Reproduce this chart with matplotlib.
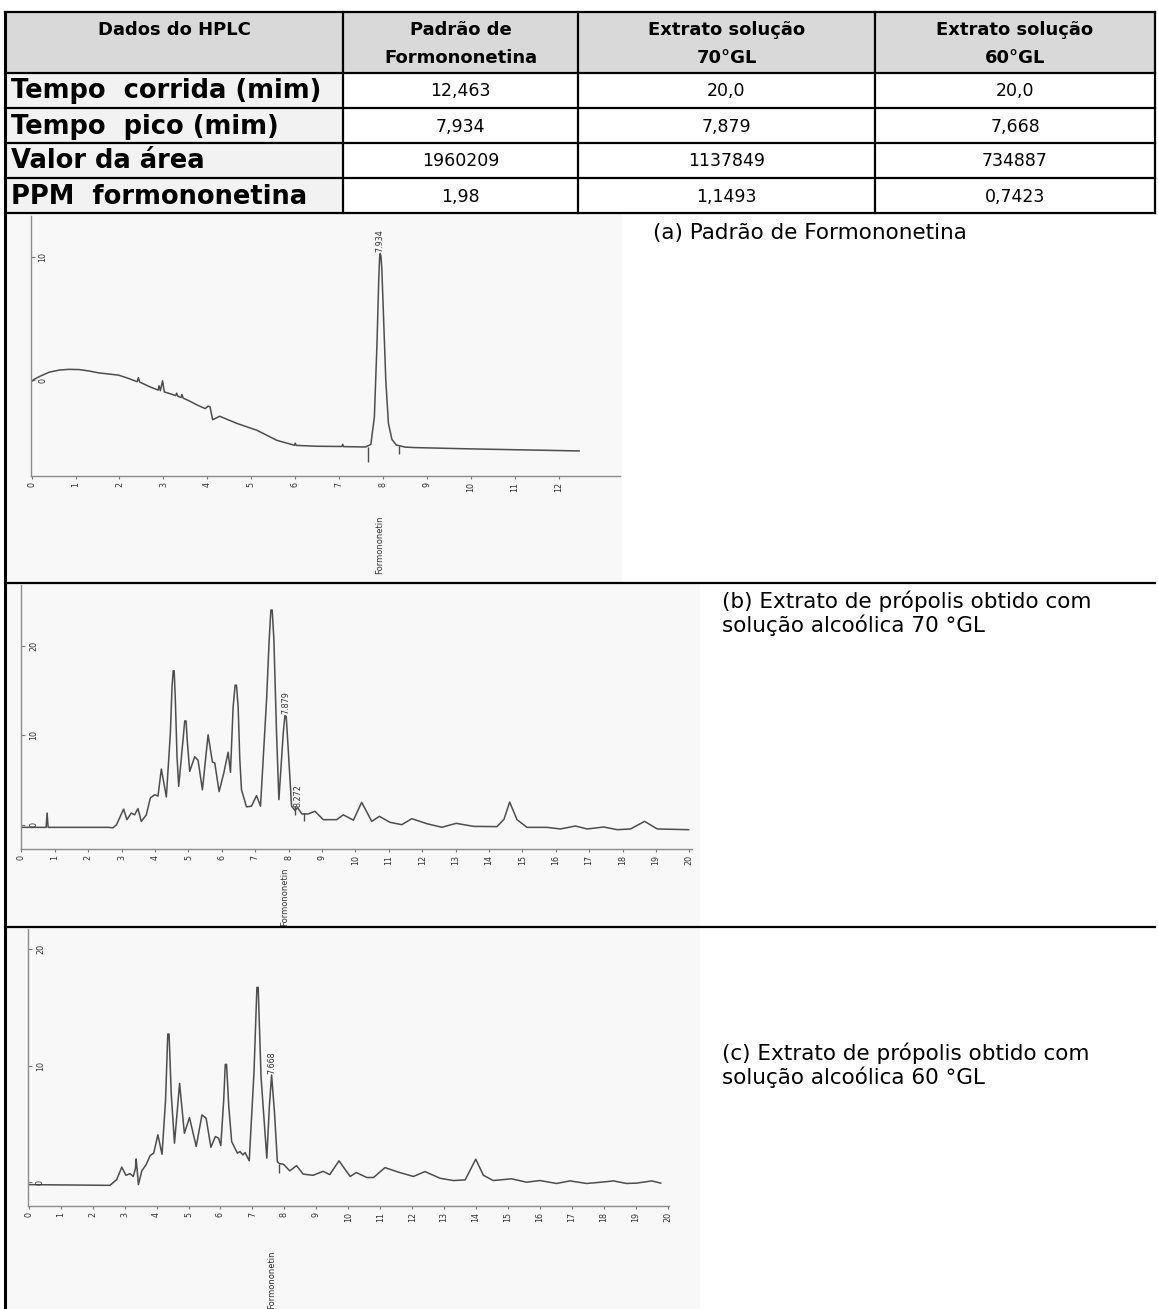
import matplotlib
matplotlib.use('Agg')
import matplotlib.pyplot as plt
from matplotlib.patches import Rectangle

plt.rcParams['font.family'] = ['DejaVu Sans']

# ---------------- data ----------------
col_headers = ["Dados do HPLC", "Padrão de\nFormononetina",
               "Extrato solução\n70°GL", "Extrato solução\n60°GL"]
row_labels = ["Tempo  corrida (mim)", "Tempo  pico (mim)",
              "Valor da área", "PPM  formononetina"]
padrao_vals = ["12,463", "7,934", "1960209", "1,98"]
extrato70_vals = ["20,0", "7,879", "1137849", "1,1493"]
extrato60_vals = ["20,0", "7,668", "734887", "0,7423"]

panel_titles = ["(a) Padrão de Formononetina",
                "(b) Extrato de própolis obtido com\nsolução alcoólica 70 °GL",
                "(c) Extrato de própolis obtido com\nsolução alcoólica 60 °GL"]

# chromatogram (a): standard
time_a = [0.00, 0.05, 0.18, 0.40, 0.63, 0.85, 1.08, 1.30, 1.53, 1.98, 2.20, 2.40,
          2.43, 2.46, 2.70, 2.88, 2.90, 2.93, 2.98, 3.02, 3.20, 3.28, 3.30, 3.33,
          3.40, 3.42, 3.45, 3.60, 3.78, 3.95, 4.02, 4.06, 4.12, 4.18, 4.28, 4.68,
          5.13, 5.58, 5.98, 6.00, 6.02, 6.48, 7.06, 7.08, 7.10, 7.60, 7.72, 7.80,
          7.86, 7.90, 7.92, 7.934, 7.95, 7.97, 8.01, 8.06, 8.12, 8.20, 8.30, 8.50,
          8.73, 10.08, 12.46]
signal_a = [-0.10, 0.05, 0.30, 0.65, 0.82, 0.88, 0.86, 0.75, 0.59, 0.41, 0.15, -0.12,
            0.20, -0.15, -0.55, -0.80, -0.45, -0.85, -0.05, -0.95, -1.15, -1.25, -1.05, -1.30,
            -1.40, -1.15, -1.45, -1.70, -2.03, -2.30, -2.10, -2.15, -3.20, -3.10, -2.92, -3.51,
            -4.06, -4.87, -5.27, -5.10, -5.28, -5.35, -5.37, -5.20, -5.38, -5.41, -5.20, -3.00,
            3.00, 8.20, 10.00, 10.27, 10.05, 9.00, 5.00, 0.00, -3.50, -4.80, -5.25, -5.42,
            -5.46, -5.57, -5.73]
marks_a_t = [7.65, 8.37]
marks_a_y0 = [-5.40, -5.30]
marks_a_y1 = [-6.60, -5.95]

# chromatogram (b): extract 70 GL
time_b = [0.00, 0.74, 0.77, 0.80, 2.10, 2.60, 2.74, 2.85, 2.94, 3.06, 3.16, 3.29, 3.39,
          3.49, 3.59, 3.74, 3.86, 3.99, 4.09, 4.19, 4.34, 4.46, 4.51, 4.545, 4.575, 4.61,
          4.66, 4.71, 4.84, 4.89, 4.93, 4.97, 5.04, 5.19, 5.29, 5.42, 5.59, 5.72, 5.79,
          5.92, 6.06, 6.19, 6.26, 6.34, 6.40, 6.44, 6.49, 6.54, 6.59, 6.74, 6.89, 7.04,
          7.16, 7.34, 7.42, 7.47, 7.51, 7.56, 7.64, 7.71, 7.84, 7.89, 7.93, 7.99, 8.09, 8.19,
          8.27, 8.40, 8.59, 8.79, 9.04, 9.44, 9.64, 9.94, 10.19, 10.49, 10.72, 11.04,
          11.39, 11.69, 12.14, 12.59, 13.02, 13.54, 14.24, 14.45, 14.62, 14.84, 15.14, 15.74,
          16.14, 16.59, 16.94, 17.44, 17.84, 18.24, 18.66, 19.04, 19.98]
signal_b = [-0.30, -0.30, 1.30, -0.30, -0.30, -0.30, -0.35, 0.00, 0.75, 1.74, 0.56, 1.30, 1.10,
            1.80, 0.37, 1.10, 2.98, 3.35, 3.20, 6.22, 3.10, 10.2, 15.4, 17.2, 17.2, 13.9,
            7.60, 4.29, 9.50, 11.6, 11.6, 9.20, 5.96, 7.60, 7.20, 3.90, 10.05, 7.00, 6.90,
            3.70, 5.77, 8.10, 5.85, 13.2, 15.6, 15.6, 13.2, 7.30, 3.90, 1.99, 2.07, 3.25,
            2.07, 13.9, 20.7, 24.0, 24.0, 20.7, 10.2, 2.80, 10.2, 12.2, 12.1, 8.40, 2.07, 1.60,
            1.90, 1.20, 1.20, 1.50, 0.56, 0.56, 1.10, 0.50, 2.50, 0.37, 0.93, 0.26,
            0.00, 0.67, 0.11, -0.29, 0.15, -0.19, -0.22, 0.60, 2.53, 0.56, -0.30, -0.30,
            -0.48, -0.15, -0.48, -0.26, -0.56, -0.48, 0.37, -0.48, -0.56]
marks_b_t = [8.19, 8.46]
marks_b_y0 = [2.07, 1.30]
marks_b_y1 = [1.03, 0.37]

# chromatogram (c): extract 60 GL
time_c = [0.00, 2.54, 2.75, 2.91, 3.04, 3.17, 3.27, 3.34, 3.36, 3.40, 3.43, 3.54,
          3.67, 3.80, 3.91, 4.04, 4.17, 4.28, 4.35, 4.39, 4.46, 4.56, 4.72, 4.87, 5.03,
          5.24, 5.42, 5.55, 5.70, 5.84, 5.94, 6.01, 6.10, 6.15, 6.19, 6.26, 6.35, 6.53,
          6.61, 6.70, 6.77, 6.90, 7.05, 7.14, 7.18, 7.27, 7.45, 7.53, 7.60, 7.69, 7.78,
          7.84, 7.97, 8.17, 8.38, 8.59, 8.90, 9.21, 9.42, 9.71, 10.06, 10.25, 10.58,
          10.79, 11.15, 11.57, 12.04, 12.40, 12.87, 13.29, 13.66, 13.99, 14.23, 14.54, 15.11,
          15.58, 16.00, 16.52, 16.94, 17.46, 17.88, 18.30, 18.71, 19.03, 19.50, 19.78]
signal_c = [-0.20, -0.26, 0.23, 1.30, 0.60, 0.74, 0.50, 1.20, 2.00, 0.80, -0.20, 1.00,
            1.50, 2.30, 2.50, 4.07, 2.40, 7.00, 12.7, 12.7, 7.50, 3.35, 8.47, 4.20, 5.54,
            3.07, 5.77, 5.50, 3.00, 3.92, 3.78, 3.15, 7.00, 10.1, 10.1, 6.50, 3.49, 2.50,
            2.63, 2.35, 2.55, 1.84, 9.50, 16.7, 16.7, 9.00, 2.07, 6.50, 9.19, 6.00, 1.78,
            1.60, 1.55, 0.98, 1.43, 0.70, 0.60, 0.94, 0.66, 1.84, 0.50, 0.84, 0.41,
            0.41, 1.26, 0.87, 0.50, 0.92, 0.35, 0.15, 0.21, 1.98, 0.60, 0.15, 0.30,
            0.01, 0.15, -0.10, 0.12, -0.10, 0.00, 0.12, -0.10, -0.07, 0.12, -0.07]
marks_c_t = [7.84]
marks_c_y0 = [1.55]
marks_c_y1 = [0.78]

peak_labels_a = [("7.934", 7.934, 10.27)]
peak_labels_b = [("7.879", 7.91, 12.3), ("8.272", 8.28, 1.9)]
peak_labels_c = [("7.668", 7.60, 9.19)]
formononetin_t = [7.93, 7.87, 7.60]

# ---------------- figure ----------------
W, H = 1158, 1309
fig = plt.figure(figsize=(W / 100, H / 100), dpi=100)
bg = fig.add_axes([0, 0, 1, 1])
bg.set_xlim(0, W)
bg.set_ylim(H, 0)
bg.axis('off')

L, R = 5, 1155
col_x = [L, 343, 578, 875, R]
row_y = [12, 73, 108, 143, 178, 213]
panel_y = [213, 583, 927, H]

# scanned-image backgrounds
for (x0, x1, y0, y1) in [(6, 622, 214, 582), (6, 700, 584, 926), (6, 700, 928, H)]:
    bg.add_patch(Rectangle((x0, y0), x1 - x0, y1 - y0, color='#f8f8f8', lw=0, zorder=0))

# table fills
bg.add_patch(Rectangle((L, row_y[0]), R - L, row_y[1] - row_y[0], color='#d9d9d9', lw=0, zorder=1))
bg.add_patch(Rectangle((L, row_y[1]), col_x[1] - L, row_y[-1] - row_y[1], color='#f2f2f2', lw=0, zorder=1))

lc = 'black'
for y in row_y:
    bg.plot([L, R], [y, y], color=lc, lw=1.6, zorder=3)
for y in panel_y[1:3]:
    bg.plot([L, R], [y, y], color=lc, lw=1.6, zorder=3)
for x in col_x[1:-1]:
    bg.plot([x, x], [row_y[0], row_y[-1]], color=lc, lw=1.6, zorder=3)
bg.plot([R, R], [row_y[0], row_y[-1]], color=lc, lw=1.6, zorder=3)
bg.plot([L, L], [row_y[0], H], color=lc, lw=2.2, zorder=3)

# header text (two lines per cell)
centers = [(col_x[i] + col_x[i + 1]) / 2 for i in range(4)]
for i, h in enumerate(col_headers):
    for k, line in enumerate(h.split('\n')):
        bg.text(centers[i], 30 + 28 * k, line, ha='center', va='center', fontsize=13,
                fontweight='bold', zorder=4)

cols = [padrao_vals, extrato70_vals, extrato60_vals]
for r, lab in enumerate(row_labels):
    yc = (row_y[r + 1] + row_y[r + 2]) / 2 + 1
    bg.text(L + 6, yc, lab, ha='left', va='center', fontsize=18.5, fontweight='bold', zorder=4)
    for c in range(3):
        bg.text(centers[c + 1], yc, cols[c][r], ha='center', va='center', fontsize=12.5, zorder=4)

# panel captions
cap_fs = 15.5
bg.text(653, 233, panel_titles[0], ha='left', va='center', fontsize=cap_fs, zorder=4)
for (x, y0), title in zip([(722, 601), (722, 1053)], panel_titles[1:]):
    for k, line in enumerate(title.split('\n')):
        bg.text(x, y0 + 24 * k, line, ha='left', va='center', fontsize=cap_fs, zorder=4)


def chrom(box, t, s, xlim, ylim, nmax, yticks, mt, my0, my1, labels, ft, form_y):
    x0, x1, ytop, ybot = box
    ax = fig.add_axes([x0 / W, 1 - ybot / H, (x1 - x0) / W, (ybot - ytop) / H])
    ax.patch.set_alpha(0)
    ax.plot(t, s, color='#4d4d4d', lw=1.1, solid_joinstyle='round')
    ax.vlines(mt, my0, my1, color='#4d4d4d', lw=1.0)
    ax.set_xlim(*xlim)
    ax.set_ylim(*ylim)
    for sp in ['top', 'right']:
        ax.spines[sp].set_visible(False)
    for sp in ['left', 'bottom']:
        ax.spines[sp].set_color('#8c8c8c')
        ax.spines[sp].set_linewidth(1.0)
    ax.set_xticks(range(0, nmax + 1))
    ax.set_xticklabels([str(i) for i in range(0, nmax + 1)], rotation=90,
                       fontsize=5.8, color='#333333')
    ax.tick_params(axis='x', length=2, width=0.8, pad=2, color='#777777')
    ax.set_yticks(yticks)
    ax.set_yticklabels([])
    ax.tick_params(axis='y', direction='in', length=3, width=0.8, color='#777777')
    for yv in yticks:
        ax.text(0.012, yv, str(yv), transform=ax.get_yaxis_transform(), rotation=90,
                fontsize=5.8, color='#333333', ha='left', va='center')
    for txt, tx, ty in labels:
        ax.text(tx, ty + 0.1, txt, rotation=90, fontsize=5.8, color='#333333',
                ha='center', va='bottom')
    ax.text(ft, form_y, "Formononetin", transform=ax.get_xaxis_transform(),
            rotation=90, fontsize=6, color='#333333', ha='center', va='center', clip_on=False)
    return ax


chrom((31, 620, 216, 476), time_a, signal_a, (-0.014, 13.39), (-7.76, 13.3), 12, [0, 10],
      marks_a_t, marks_a_y0, marks_a_y1, peak_labels_a, formononetin_t[0], -0.265)
chrom((21.4, 692, 585, 849), time_b, signal_b, (0.0, 20.08), (-2.72, 26.8), 20, [0, 10, 20],
      marks_b_t, marks_b_y0, marks_b_y1, peak_labels_b, formononetin_t[1], -0.18)
chrom((28.3, 669, 929, 1206), time_c, signal_c, (-0.016, 20.04), (-2.03, 21.7), 20, [0, 10, 20],
      marks_c_t, marks_c_y0, marks_c_y1, peak_labels_c, formononetin_t[2], -0.267)

fig.savefig('out.png', dpi=100)
